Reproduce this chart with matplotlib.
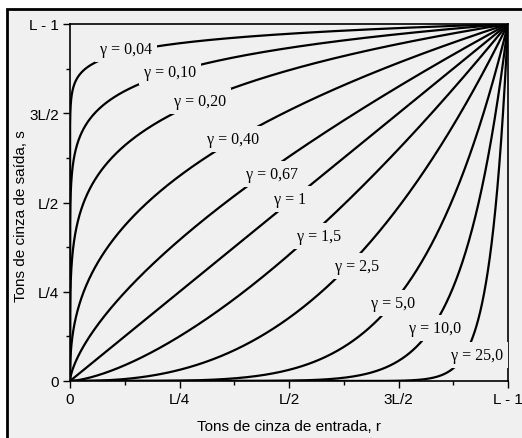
import numpy as np
import matplotlib
matplotlib.use("Agg")
import matplotlib.pyplot as plt
from matplotlib.patches import Rectangle
from matplotlib.ticker import FixedLocator

# ---- data ----
gammas = [0.04, 0.10, 0.20, 0.40, 0.67, 1.0, 1.5, 2.5, 5.0, 10.0, 25.0]
gamma_labels = ["0,04", "0,10", "0,20", "0,40", "0,67", "1", "1,5", "2,5", "5,0", "10,0", "25,0"]
tick_values = [0, 0.25, 0.5, 0.75, 1.0]
tick_labels = ["0", "L/4", "L/2", "3L/2", "L - 1"]
minor_values = [0.125, 0.375, 0.625, 0.875]

# label anchor positions (layout, data coords)
label_x = [0.128, 0.228, 0.297, 0.373, 0.462, 0.502, 0.568, 0.656, 0.737, 0.833, 0.929]
label_y = [0.930, 0.866, 0.784, 0.678, 0.580, 0.510, 0.406, 0.322, 0.218, 0.148, 0.073]

BG = "#f0f0f0"
W, H = 522, 439
fig = plt.figure(figsize=(W / 100, H / 100), dpi=100)
fig.patch.set_facecolor("white")

# framed background (top and left edges visible)
fig.patches.append(Rectangle((7 / W, -0.1), 1.2, (H - 10) / H + 0.1,
                             transform=fig.transFigure, facecolor=BG,
                             edgecolor="black", linewidth=2.0, zorder=-5))

ax = fig.add_axes([70 / W, (H - 382) / H, (508 - 70) / W, (382 - 25) / H])
ax.set_zorder(2)
ax.set_facecolor(BG)

r = np.unique(np.concatenate([np.geomspace(1e-12, 1e-2, 600), np.linspace(0, 1, 3000)]))
for g in gammas:
    ax.plot(r, r ** g, color="black", lw=1.6, solid_capstyle="butt", zorder=2)

for lx, ly, lab in zip(label_x, label_y, gamma_labels):
    ax.text(lx, ly, "\u03b3 = " + lab, family="Liberation Serif", fontsize=11.5,
            ha="center", va="center", zorder=3,
            bbox=dict(boxstyle="square,pad=0.3", facecolor=BG, edgecolor="none"))

ax.set_xlim(0, 1)
ax.set_ylim(0, 1)
ax.xaxis.set_major_locator(FixedLocator(tick_values))
ax.yaxis.set_major_locator(FixedLocator(tick_values))
ax.xaxis.set_minor_locator(FixedLocator(minor_values))
ax.yaxis.set_minor_locator(FixedLocator(minor_values))
ax.set_xticklabels(tick_labels, family="Liberation Sans", fontsize=11)
ax.set_yticklabels(tick_labels, family="Liberation Sans", fontsize=11)
ax.tick_params(which="major", direction="out", length=5, width=1.0, pad=3)
ax.tick_params(which="minor", direction="out", length=3, width=1.0)
for s in ax.spines.values():
    s.set_linewidth(1.2)

fig.text(289 / W, 1 - 427 / H, "Tons de cinza de entrada, r", family="Liberation Sans",
         fontsize=11, ha="center", va="center")
fig.text(21 / W, 1 - 216 / H, "Tons de cinza de saída, s", family="Liberation Sans",
         fontsize=11, ha="center", va="center", rotation=90)

fig.savefig("out.png", dpi=100, facecolor=fig.get_facecolor())
